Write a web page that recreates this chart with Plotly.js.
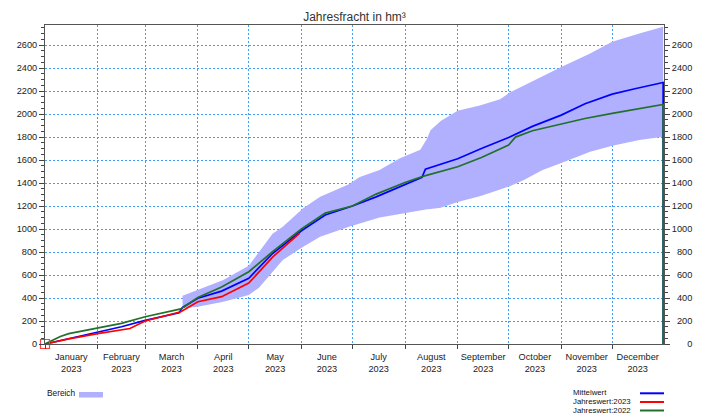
<!DOCTYPE html>
<html>
<head>
<meta charset="utf-8">
<script src="https://cdn.plot.ly/plotly-3.0.1.min.js"></script>
<style>html,body{margin:0;padding:0;background:#fff;}#chart{width:709px;height:414px;}</style>
</head>
<body>
<div id="chart"></div>
<script>
// ---- data ----
const bandDates = ['2023-03-23','2023-04-01','2023-04-16','2023-05-01','2023-05-07','2023-05-11','2023-05-15','2023-05-21','2023-06-02','2023-06-12','2023-06-29','2023-07-05','2023-07-17','2023-07-29','2023-08-10','2023-08-14','2023-08-16','2023-08-22','2023-09-01','2023-09-14','2023-09-26','2023-10-02','2023-10-10','2023-10-21','2023-11-01','2023-11-18','2023-12-01','2023-12-17','2023-12-31'];
const bandLower = [310,325,368,426,490,557,630,730,846,933,1020,1045,1100,1130,1165,1172,1175,1185,1235,1285,1345,1375,1426,1513,1575,1672,1725,1774,1803];
const bandUpper = [420,470,557,680,800,880,960,1020,1180,1280,1390,1450,1513,1615,1690,1788,1860,1940,2030,2075,2130,2190,2250,2330,2410,2528,2629,2700,2759];

const mittelDates = ['2023-01-01','2023-01-15','2023-02-01','2023-02-15','2023-03-01','2023-03-15','2023-03-21','2023-03-23','2023-04-01','2023-04-15','2023-05-01','2023-05-15','2023-06-01','2023-06-15','2023-07-01','2023-07-15','2023-08-01','2023-08-11','2023-08-13','2023-08-20','2023-09-01','2023-09-15','2023-10-01','2023-10-15','2023-11-01','2023-11-15','2023-12-01','2023-12-15','2023-12-31','2023-12-31'];
const mittelValues = [0,48,100,150,205,255,272,318,398,460,572,787,985,1122,1200,1280,1385,1450,1520,1555,1612,1700,1797,1893,1991,2090,2174,2223,2275,0];

const y2023Dates = ['2023-01-01','2023-01-15','2023-02-01','2023-02-20','2023-03-01','2023-03-15','2023-03-22','2023-04-01','2023-04-15','2023-05-01','2023-05-15','2023-05-31'];
const y2023Values = [0,45,90,135,200,252,281,368,412,530,756,965];

const y2022Dates = ['2023-01-01','2023-01-05','2023-01-10','2023-01-15','2023-02-01','2023-02-15','2023-03-01','2023-03-15','2023-03-22','2023-04-01','2023-04-15','2023-05-01','2023-05-15','2023-06-01','2023-06-15','2023-07-01','2023-07-15','2023-08-01','2023-08-12','2023-09-01','2023-09-15','2023-10-01','2023-10-05','2023-10-15','2023-11-01','2023-11-15','2023-12-01','2023-12-15','2023-12-31','2023-12-31'];
const y2022Values = [0,30,65,90,138,180,237,281,305,405,496,629,803,1000,1139,1200,1304,1405,1460,1542,1623,1730,1800,1855,1913,1962,2006,2043,2084,0];

const yTickValues = [0,200,400,600,800,1000,1200,1400,1600,1800,2000,2200,2400,2600];
const legendNames = ['Bereich','Mittelwert','Jahreswert:2023','Jahreswert:2022'];

// ---- styling ----
const BAND = 'rgb(176,176,255)';
const BLUE = '#0000ff', RED = '#ff0000', GREEN = '#22702a';
const GRID = '#3f9cff';
const FONT = 'Liberation Sans, Arial, sans-serif';
const yMax = 2775;

const traces = [
  {x: bandDates, y: bandLower, type: 'scatter', mode: 'lines', line: {width: 0, color: BAND}, hoverinfo: 'skip', showlegend: false},
  {x: bandDates, y: bandUpper, type: 'scatter', mode: 'lines', line: {width: 0, color: BAND}, fill: 'tonexty', fillcolor: BAND, hoverinfo: 'skip', showlegend: false},
  {x: mittelDates, y: mittelValues, type: 'scatter', mode: 'lines', line: {color: BLUE, width: 1.7}, showlegend: false},
  {x: y2023Dates, y: y2023Values, type: 'scatter', mode: 'lines', line: {color: RED, width: 1.7}, showlegend: false},
  {x: y2022Dates, y: y2022Values, type: 'scatter', mode: 'lines', line: {color: GREEN, width: 1.7}, showlegend: false},
  {x: [y2023Dates[0]], y: [y2023Values[0]], type: 'scatter', mode: 'markers', marker: {symbol: 'square-open', size: 9, color: '#ff4040', line: {width: 1.2, color: '#ff4040'}}, cliponaxis: false, showlegend: false},
  {x: [bandDates[0]], y: [bandLower[0]], yaxis: 'y2', type: 'scatter', mode: 'markers', marker: {size: 0, opacity: 0}, hoverinfo: 'skip', showlegend: false}
];

const pad = s => '\u2007'.repeat(4 - String(s).length) + s;

const px2x = px => (px - 45) / 619;
const px2y = py => (344 - py) / 319;

const legendFont = {family: FONT, size: 7.8, color: '#111'};
const annotations = [
  {text: legendNames[0], x: px2x(45), y: px2y(393), xref: 'paper', yref: 'paper', xanchor: 'left', yanchor: 'middle', showarrow: false, font: {family: FONT, size: 8.3, color: '#111'}},
  {text: legendNames[1], x: px2x(571), y: px2y(392.5), xref: 'paper', yref: 'paper', xanchor: 'left', yanchor: 'middle', showarrow: false, font: legendFont},
  {text: legendNames[2], x: px2x(571), y: px2y(401.5), xref: 'paper', yref: 'paper', xanchor: 'left', yanchor: 'middle', showarrow: false, font: legendFont},
  {text: legendNames[3], x: px2x(571), y: px2y(410.5), xref: 'paper', yref: 'paper', xanchor: 'left', yanchor: 'middle', showarrow: false, font: legendFont}
];
const shapes = [
  {type: 'rect', xref: 'paper', yref: 'paper', x0: px2x(79), x1: px2x(103), y0: px2y(392), y1: px2y(397.5), fillcolor: BAND, line: {width: 0}},
  {type: 'line', xref: 'paper', yref: 'paper', x0: px2x(640), x1: px2x(664), y0: px2y(393.3), y1: px2y(393.3), line: {color: BLUE, width: 2}},
  {type: 'line', xref: 'paper', yref: 'paper', x0: px2x(640), x1: px2x(664), y0: px2y(402), y1: px2y(402), line: {color: RED, width: 2}},
  {type: 'line', xref: 'paper', yref: 'paper', x0: px2x(640), x1: px2x(664), y0: px2y(410.5), y1: px2y(410.5), line: {color: GREEN, width: 2}}
];

const tickFont = {family: FONT, size: 9.2, color: '#222'};

const layout = {
  width: 709, height: 414,
  margin: {l: 45, r: 45, t: 25, b: 70, pad: 0},
  paper_bgcolor: '#fff', plot_bgcolor: '#fff',
  font: {family: FONT, color: '#222'},
  title: {text: 'Jahresfracht in hm³', font: {family: FONT, size: 12, color: '#333'}, x: 0.5, xref: 'paper', y: 1 - 17/414, yref: 'container', yanchor: 'middle'},
  showlegend: false,
  xaxis: {
    type: 'date', range: ['2023-01-01', '2023-12-31 12:00'],
    tick0: '2023-01-01', dtick: 'M1', tickformat: '%B<br>%Y', ticklabelmode: 'period',
    ticks: 'outside', ticklen: 4, tickcolor: '#444', tickwidth: 1,
    showgrid: true, gridcolor: GRID, griddash: '2px,2px', gridwidth: 1,
    showline: true, linecolor: '#555', linewidth: 1, mirror: true,
    zeroline: false, tickfont: tickFont, fixedrange: true
  },
  yaxis: {
    range: [0, yMax], tickmode: 'array', tickvals: yTickValues, ticktext: yTickValues.map(String),
    ticks: 'outside', ticklen: 5, tickcolor: '#444',
    minor: {dtick: 50, tick0: 0, ticks: 'outside', ticklen: 3, tickcolor: '#444', showgrid: false},
    showgrid: true, gridcolor: GRID, griddash: '2px,2px', gridwidth: 1,
    showline: true, linecolor: '#555', linewidth: 1, mirror: true,
    zeroline: false, tickfont: tickFont, fixedrange: true
  },
  yaxis2: {
    overlaying: 'y', side: 'right', range: [0, yMax],
    tickmode: 'array', tickvals: yTickValues, ticktext: yTickValues.map(pad),
    ticks: 'outside', ticklen: 5, tickcolor: '#444',
    minor: {dtick: 50, tick0: 0, ticks: 'outside', ticklen: 3, tickcolor: '#444', showgrid: false},
    showgrid: false, showline: false, zeroline: false, tickfont: tickFont, fixedrange: true
  },
  annotations: annotations,
  shapes: shapes
};

Plotly.newPlot('chart', traces, layout, {staticPlot: true, displayModeBar: false});
</script>
</body>
</html>
